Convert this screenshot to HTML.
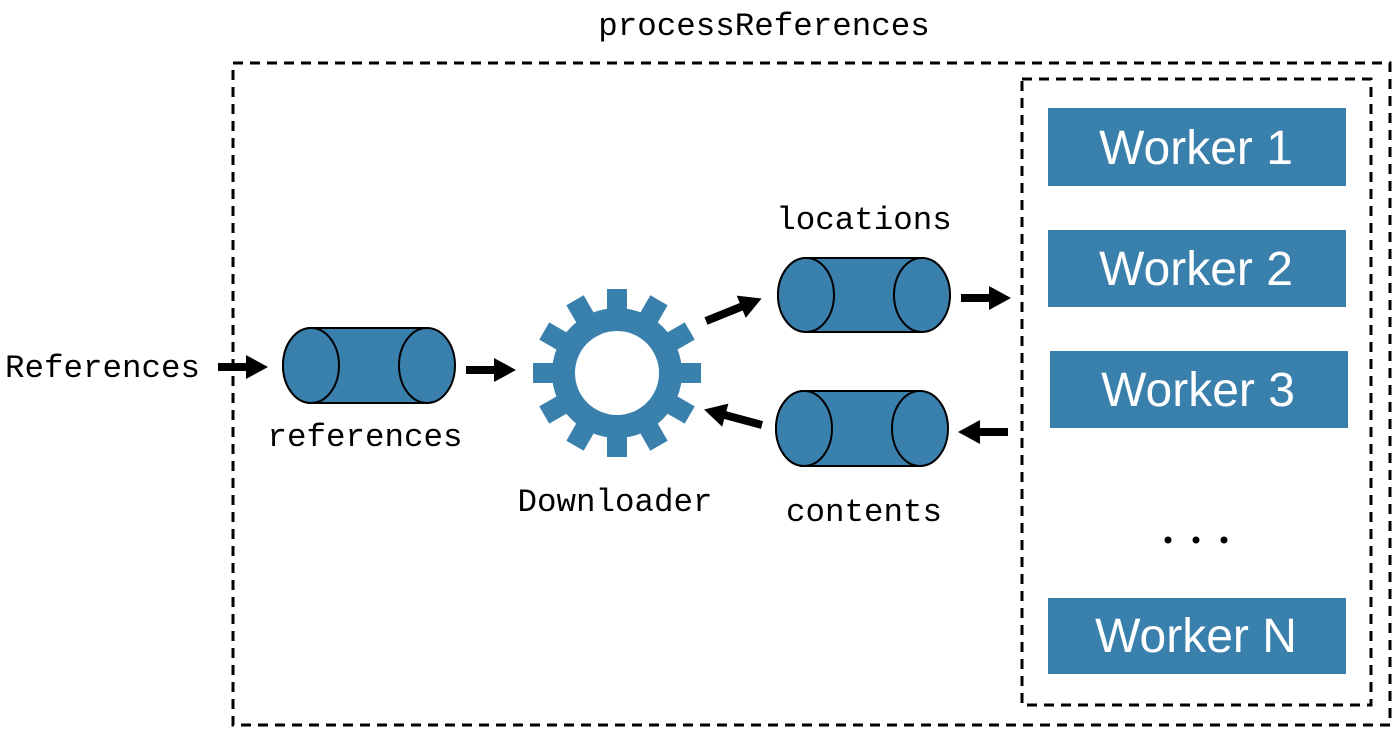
<!DOCTYPE html>
<html><head><meta charset="utf-8"><style>
html,body{margin:0;padding:0;background:#fff;}
svg{display:block;}
.m{font-family:"Liberation Mono","DejaVu Sans Mono",monospace;font-size:32.5px;fill:#000;}
.w{font-family:"Liberation Sans",sans-serif;font-size:48px;fill:#fff;}
</style></head><body>
<svg width="1400" height="732" viewBox="0 0 1400 732" xmlns="http://www.w3.org/2000/svg">
<defs>
<path id="ar" d="M0,-4 H28 V-12 L50,0 L28,12 V4 H0 z" fill="#000"/>
<path id="ar2" d="M0,-4 H38 V-12 L60,0 L38,12 V4 H0 z" fill="#000"/>
</defs>
<text class="m" x="764" y="35" text-anchor="middle">processReferences</text>
<rect x="233" y="63" width="1157" height="662" fill="none" stroke="#000" stroke-width="3" stroke-dasharray="10 7"/>
<rect x="1022" y="79" width="349" height="626" fill="none" stroke="#000" stroke-width="3" stroke-dasharray="10 7"/>

<text class="m" x="5" y="377">References</text>
<text class="m" x="365" y="446" text-anchor="middle">references</text>
<text class="m" x="615" y="511" text-anchor="middle">Downloader</text>
<text class="m" x="864" y="229" text-anchor="middle">locations</text>
<text class="m" x="864" y="521" text-anchor="middle">contents</text>

<g stroke="#000" stroke-width="2" fill="#3a80ad">
<g transform="translate(283,328)">
<path d="M28,0 H144 A28,37.5 0 0 1 144,75 H28 A28,37.5 0 0 1 28,0 z"/>
<ellipse cx="28" cy="37.5" rx="28" ry="37.5"/>
<path d="M144,0 A28,37.5 0 0 0 144,75" fill="none"/>
</g>
<g transform="translate(778,258)">
<path d="M28,0 H144 A28,37 0 0 1 144,74 H28 A28,37 0 0 1 28,0 z"/>
<ellipse cx="28" cy="37" rx="28" ry="37"/>
<path d="M144,0 A28,37 0 0 0 144,74" fill="none"/>
</g>
<g transform="translate(776,391)">
<path d="M28,0 H144 A28,37.5 0 0 1 144,75 H28 A28,37.5 0 0 1 28,0 z"/>
<ellipse cx="28" cy="37.5" rx="28" ry="37.5"/>
<path d="M144,0 A28,37.5 0 0 0 144,75" fill="none"/>
</g>
</g>

<g transform="translate(617,373)" fill="#3a80ad">
<circle r="65"/>
<g id="t"><rect x="-10" y="-84" width="20" height="30"/></g>
<use href="#t" transform="rotate(30)"/><use href="#t" transform="rotate(60)"/><use href="#t" transform="rotate(90)"/>
<use href="#t" transform="rotate(120)"/><use href="#t" transform="rotate(150)"/><use href="#t" transform="rotate(180)"/>
<use href="#t" transform="rotate(210)"/><use href="#t" transform="rotate(240)"/><use href="#t" transform="rotate(270)"/>
<use href="#t" transform="rotate(300)"/><use href="#t" transform="rotate(330)"/>
<circle r="42" fill="#fff"/>
</g>

<use href="#ar" transform="translate(218,367)"/>
<use href="#ar" transform="translate(466,370)"/>
<use href="#ar2" transform="translate(706,321) rotate(-22)"/>
<use href="#ar" transform="translate(961,298)"/>
<use href="#ar" transform="translate(1008,432) rotate(180)"/>
<use href="#ar2" transform="translate(762,425) rotate(195)"/>

<g fill="#3a80ad">
<rect x="1048" y="108" width="298" height="78"/>
<rect x="1048" y="230" width="298" height="77"/>
<rect x="1050" y="351" width="298" height="77"/>
<rect x="1048" y="598" width="298" height="76"/>
</g>
<text class="w" x="1196" y="164" text-anchor="middle">Worker 1</text>
<text class="w" x="1196" y="285" text-anchor="middle">Worker 2</text>
<text class="w" x="1198" y="406" text-anchor="middle">Worker 3</text>
<text class="w" x="1196" y="652" text-anchor="middle">Worker N</text>
<g fill="#000"><circle cx="1168" cy="540" r="3.5"/><circle cx="1196" cy="540" r="3.5"/><circle cx="1224" cy="540" r="3.5"/></g>
</svg>
</body></html>
